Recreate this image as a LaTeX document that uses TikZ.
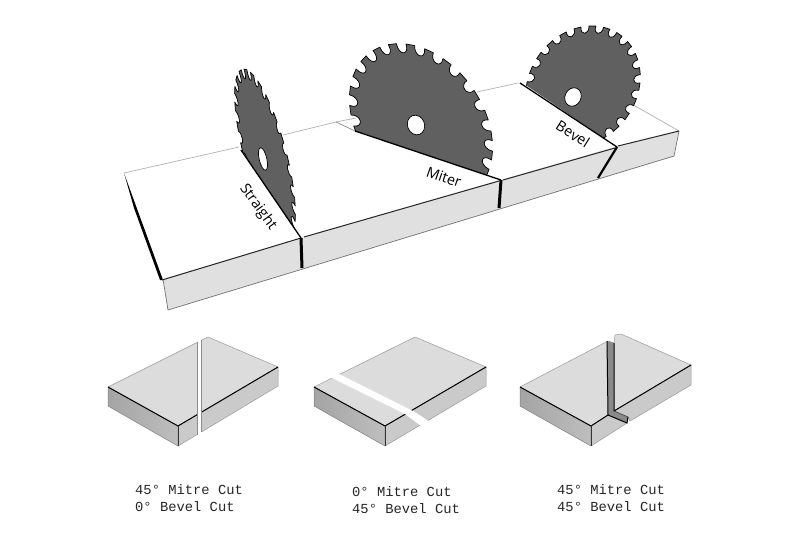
\documentclass[tikz,border=0pt]{standalone}
\usepackage{fontspec}
\newfontfamily\labelfont{Open Sans}
\newfontfamily\capfont{Liberation Mono}
\definecolor{bladegray}{HTML}{606060}
\definecolor{sidegray}{HTML}{E0E0E0}
\definecolor{topgray}{HTML}{DCDCDC}
\definecolor{rightgray}{HTML}{CACACA}
\definecolor{leftdark}{HTML}{A4A4A4}
\definecolor{leftlight}{HTML}{BEBEBE}
\definecolor{groovegray}{HTML}{8A8A8A}
\tikzset{
  bladeshape/.style={fill=bladegray,draw=black,line width=.7pt,line join=round},
  holeshape/.style={fill=white,draw=black,line width=.7pt},
  backedge/.style={draw=black!30,line width=.7pt},
  lowedge/.style={draw=black!55,line width=.7pt},
  cutline/.style={draw=black,line width=1.3pt},
  kerf/.style={draw=black,line width=3pt},
  frontedge/.style={draw=black!85,line width=1pt},
  bigface/.style={fill=sidegray},
  smalltop/.style={fill=topgray,draw=black!40,line width=.5pt,line join=round},
  smallright/.style={fill=rightgray,draw=black!40,line width=.5pt,line join=round},
  smallleft/.style={left color=leftdark,right color=leftlight,draw=black!50,line width=.5pt,line join=round},
  ridge/.style={draw=black,line width=1pt},
  bladetext/.style={font=\labelfont\fontsize{14.5}{16}\selectfont,text=black,inner sep=0pt},
  captext/.style={font=\capfont\fontsize{13.8}{17}\selectfont,text=black!85,anchor=base west,inner sep=0pt}
}
\newcommand{\sawpath}{%
  (0:1) \foreach \i in {0,...,23}{
    -- (\i*15+7:1)
    .. controls (\i*15+5.5:.85) and (\i*15+16.5:.85) .. (\i*15+15:1)
  } -- cycle}
\begin{document}
\begin{tikzpicture}[x=1pt,y=-1pt]
\useasboundingbox (0,0) rectangle (800,533);
\fill[white] (0,0) rectangle (800,533);

% large board: top and front faces
\fill[white] (124,173) -- (336,122) -- (679,131) -- (618,146) -- (163,279) -- cycle;
\fill[bigface] (163,279) -- (301,238) -- (500,180) -- (618,146) -- (679,131) -- (674,156) -- (168,310) -- cycle;
\fill[black] (124,173) -- (163,280) -- (160,280) -- (134,208) -- cycle;
\draw[backedge] (124,173) -- (239,147);
\draw[backedge] (283,135) -- (336,122);
\draw[backedge] (477,92) -- (518,83);
\draw[backedge] (630,103) -- (679,131);
\draw[backedge] (336,122) -- (356,118);
\draw[lowedge] (163,279) -- (168,310) -- (674,156) -- (679,131);
\draw[frontedge] (162,280) -- (301,238);
\draw[frontedge] (304,237) -- (499,181);
\draw[frontedge] (503,180) -- (615,148);
\draw[frontedge] (618,146) -- (679,131);
\draw[line width=.7pt,black!45] (336,122) -- (355,131);

% straight blade
\begin{scope}
\clip (200,40) -- (330,40) -- (330,240) -- (301,238) -- (241,150) -- (200,150) -- cycle;
\begin{scope}[shift={(265,154)},x={(22pt,-1pt)},y={(21pt,-85pt)}]
\draw[bladeshape] \sawpath;
\end{scope}
\end{scope}
\draw[holeshape,shift={(263,159)},rotate=13] (0,0) ellipse [x radius=3.8pt,y radius=11.5pt];

% miter blade
\begin{scope}
\clip (337,125) -- (501,180) -- (520,180) -- (520,30) -- (337,30) -- cycle;
\begin{scope}[shift={(421,123)},x={(70pt,-8pt)},y={(15pt,-79pt)}]
\draw[bladeshape] \sawpath;
\end{scope}
\end{scope}
\draw[holeshape,shift={(416,125)},rotate=20] (0,0) ellipse [x radius=8.5pt,y radius=10pt];

% bevel blade
\begin{scope}
\clip (505,71) -- (617,147) -- (660,147) -- (660,10) -- (505,10) -- cycle;
\begin{scope}[shift={(583,86)},x={(57pt,3pt)},y={(-6pt,-60pt)}]
\draw[bladeshape] \sawpath;
\end{scope}
\end{scope}
\draw[holeshape,shift={(573,97)},rotate=-25] (0,0) ellipse [x radius=8pt,y radius=9.5pt];

% saw cuts
\coordinate (sa) at (241,150); \coordinate (sb) at (301,238); \coordinate (sc) at (302,268);
\coordinate (ma) at (355,131); \coordinate (mb) at (501,180); \coordinate (mc) at (499,208);
\coordinate (ba) at (520,83);  \coordinate (bb) at (617,147); \coordinate (bc) at (598,178);
\draw[cutline] (sa) -- (sb);
\draw[kerf] (sb) -- (sc);
\draw[cutline] (ma) -- (mb);
\draw[kerf] (mb) -- (mc);
\draw[cutline] (ba) -- (bb);
\draw[line width=2.2pt,black] (bb) -- (bc);

\node[bladetext,rotate=-54] (straight) at (258,207) {Straight};
\node[bladetext,rotate=-19] (miter) at (444,177) {Miter};
\node[bladetext,rotate=-32] (bevel) at (573,134) {Bevel};

% block 1
\draw[smalltop] (108,387) -- (208,337) -- (278,367) -- (178,426) -- cycle;
\draw[smallleft] (108,387) -- (178,426) -- (178,446) -- (108,406) -- cycle;
\draw[smallright] (178,426) -- (278,367) -- (278,386) -- (178,446) -- cycle;
\draw[ridge] (108,387) -- (178,426) -- (278,367);
\draw[black!80,line width=1pt] (178,426) -- (178,446);
\fill[white] (197.7,334) rectangle (201.7,440);
\draw[black!45,line width=.6pt] (197.7,341.5) -- (197.7,435);
\draw[black!45,line width=.6pt] (201.7,339.5) -- (201.7,432);

% block 2
\draw[smalltop] (314,387) -- (415,337) -- (486,367) -- (385,426) -- cycle;
\draw[smallleft] (314,387) -- (385,426) -- (385,446) -- (314,406) -- cycle;
\draw[smallright] (385,426) -- (486,367) -- (486,386) -- (385,446) -- cycle;
\draw[ridge] (314,387) -- (385,426) -- (486,367);
\draw[black!80,line width=1pt] (385,426) -- (385,446);
\fill[white] (331,377.5) -- (338,373.5) -- (415,412) -- (429,421.5) -- (421,426) -- (405,414) -- cycle;

% block 3
\draw[smalltop] (520,387) -- (608,341) -- (614,343) -- (615,335) -- (621,334) -- (691,365) -- (614,411) -- (608,415) -- (591,426) -- cycle;
\draw[smallleft] (520,387) -- (591,426) -- (591,446) -- (520,406) -- cycle;
\draw[smallright] (591,426) -- (608,415) -- (627,423) -- (591,446) -- cycle;
\draw[smallright] (614,411) -- (691,365) -- (691,385) -- (630,421) -- (628,417) -- cycle;
\fill[groovegray] (607,341) -- (614,343) -- (614,411) -- (628,417) -- (627,423) -- (608,415) -- cycle;
\draw[ridge] (520,387) -- (591,426) -- (608,415);
\draw[ridge] (608,415) -- (607,341);
\draw[ridge] (614,343) -- (614,411) -- (691,365);
\draw[ridge] (608,415) -- (627,423) -- (628,417);
\draw[black!70,line width=.7pt] (614,411) -- (628,417);
\draw[black!80,line width=1pt] (591,426) -- (591,446);

% captions
\node[captext] (c1a) at (135,494) {45° Mitre Cut};
\node[captext] (c1b) at (135,511) {0° Bevel Cut};
\node[captext] (c2a) at (352,496) {0° Mitre Cut};
\node[captext] (c2b) at (352,513) {45° Bevel Cut};
\node[captext] (c3a) at (557,494) {45° Mitre Cut};
\node[captext] (c3b) at (557,511) {45° Bevel Cut};
\end{tikzpicture}
\end{document}
